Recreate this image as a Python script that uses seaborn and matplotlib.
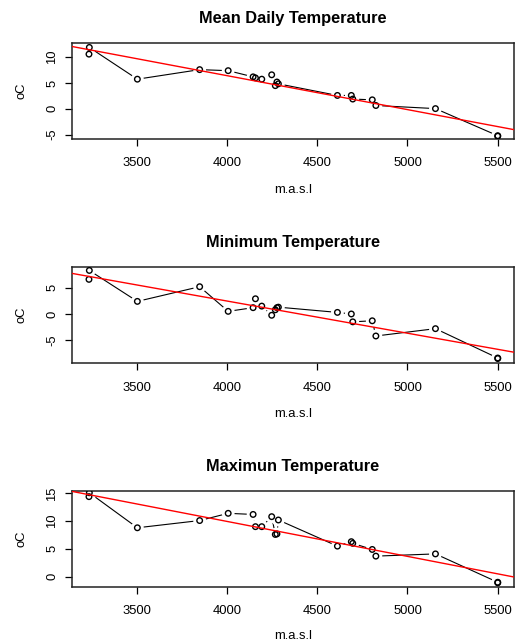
import numpy as np
import pandas as pd
import matplotlib
matplotlib.use("Agg")
import matplotlib.pyplot as plt
import seaborn as sns

# ---- data ----
altitude = [3236, 3238, 3504, 3849, 4007, 4145, 4158, 4193, 4248, 4268, 4277, 4285,
            4612, 4689, 4697, 4805, 4825, 5155, 5500, 5500]
mean_temp = [10.6, 11.9, 5.75, 7.6, 7.4, 6.2, 6.0, 5.75, 6.6, 4.5, 5.2, 4.85,
             2.6, 2.6, 1.9, 1.75, 0.65, 0.05, -5.2, -5.3]
min_temp = [6.6, 8.3, 2.4, 5.2, 0.5, 1.2, 2.9, 1.5, -0.25, 0.8, 1.2, 1.3,
            0.3, 0.0, -1.5, -1.3, -4.2, -2.8, -8.4, -8.5]
max_temp = [14.4, 15.1, 8.8, 10.1, 11.4, 11.2, 9.0, 9.0, 10.8, 7.6, 7.7, 10.2,
            5.5, 6.3, 6.0, 4.9, 3.7, 4.1, -1.0, -1.1]
titles = ["Mean Daily Temperature", "Minimum Temperature", "Maximun Temperature"]
y_ticks = [[-5, 0, 5, 10], [-5, 0, 5], [0, 5, 10, 15]]
x_ticks = [3500, 4000, 4500, 5000, 5500]
x_label = "m.a.s.l"
y_label = "oC"

sns.set_style("white")
plt.rcParams["font.family"] = ["Liberation Sans", "DejaVu Sans"]
plt.rcParams["text.color"] = "black"
plt.rcParams["axes.labelcolor"] = "black"
plt.rcParams["xtick.color"] = "black"
plt.rcParams["ytick.color"] = "black"

W, H = 515, 642
fig = plt.figure(figsize=(W / 100, H / 100), dpi=100)

panel_px = [(43.3, 138.7), (267.3, 363.0), (490.7, 586.7)]
ylims = [(-5.78, 12.7), (-9.35, 8.9), (-1.8, 15.47)]
xlabel_pads = [10.5, 10.5, 9.0]
series = [mean_temp, min_temp, max_temp]
left_px, right_px = 72, 514

for i, (top, bot) in enumerate(panel_px):
    ax = fig.add_axes([left_px / W, 1 - bot / H, (right_px - left_px) / W, (bot - top) / H])
    df = pd.DataFrame({"alt": altitude, "t": series[i]})
    # connecting lines (R type="b")
    sns.lineplot(data=df, x="alt", y="t", sort=False, estimator=None, color="black",
                 linewidth=0.8, ax=ax, zorder=1)
    # white masks to create gaps around points
    sns.scatterplot(data=df, x="alt", y="t", s=85, color="white", edgecolor="none",
                    linewidth=0, ax=ax, zorder=2)
    # hollow circles
    sns.scatterplot(data=df, x="alt", y="t", s=16, facecolor="none", edgecolor="black",
                    linewidth=1.0, ax=ax, zorder=3)
    # regression line
    slope, intercept = np.polyfit(df["alt"], df["t"], 1)
    ax.axline((0, intercept), slope=slope, color="red", linewidth=1.0, zorder=4)

    ax.set_xlim(3142, 5590)
    ax.set_ylim(*ylims[i])
    ax.set_xticks(x_ticks)
    ax.set_yticks(y_ticks[i])
    ax.set_xticklabels([str(v) for v in x_ticks])
    ax.set_yticklabels([str(v) for v in y_ticks[i]], rotation=90, va="center")
    ax.tick_params(axis="both", which="major", direction="out", length=5, width=0.9,
                   color="black", labelcolor="black", labelsize=9.4,
                   bottom=True, left=True)
    ax.tick_params(axis="x", pad=8.5)
    ax.tick_params(axis="y", pad=5.0)
    for sp in ax.spines.values():
        sp.set_visible(True)
        sp.set_color("#222222")
        sp.set_linewidth(1.1)
    ax.set_xlabel(x_label, fontsize=9.4, labelpad=xlabel_pads[i], color="black")
    ax.set_ylabel(y_label, fontsize=9.4, labelpad=13.5, color="black")
    ax.set_title(titles[i], fontsize=11.8, fontweight="bold", pad=14.4, color="black")

fig.savefig("out.png", dpi=100)
